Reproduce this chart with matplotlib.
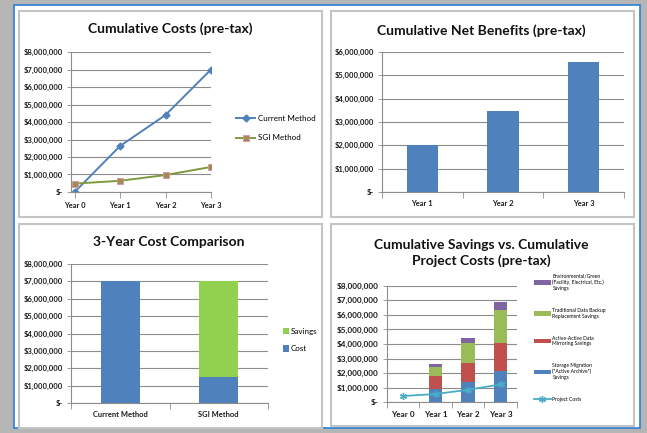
import matplotlib
matplotlib.use('Agg')
import matplotlib.pyplot as plt
from matplotlib.patches import Rectangle
from matplotlib.ticker import FuncFormatter, FixedLocator

# data
years = ['Year 0', 'Year 1', 'Year 2', 'Year 3']
current_cost = [0, 2.63e6, 4.40e6, 7.00e6]
sgi_cost = [0.48e6, 0.64e6, 0.97e6, 1.43e6]

benefit_years = ['Year 1', 'Year 2', 'Year 3']
net_benefit = [2.0e6, 3.47e6, 5.58e6]

methods = ['Current Method', 'SGI Method']
cost_3yr = [7.0e6, 1.5e6]
savings_3yr = [0, 5.5e6]

storage_migration = [0, 0.91e6, 1.41e6, 2.14e6]
mirroring = [0, 0.89e6, 1.30e6, 1.94e6]
backup = [0, 0.64e6, 1.37e6, 2.24e6]
green_savings = [0, 0.16e6, 0.30e6, 0.53e6]
project_costs = [0.43e6, 0.57e6, 0.86e6, 1.23e6]

W, H = 647, 433
BLUE = '#4F81BD'
RED = '#C0504D'
GREEN = '#9BBB59'
PURPLE = '#8064A2'
CYAN = '#4BACC6'
GRID = '#8C8C8C'

plt.rcParams['font.family'] = ['Lato', 'DejaVu Sans']
plt.rcParams['font.weight'] = 'bold'

fig = plt.figure(figsize=(W / 100, H / 100), dpi=100)
fig.patch.set_facecolor('white')


def box(l, t, r, b, **kw):
    fig.patches.append(Rectangle((l / W, 1 - b / H), (r - l) / W, (b - t) / H,
                                 transform=fig.transFigure, **kw))


# frame and panels
box(0, 0, W, H, facecolor='#b5b5b5', edgecolor='none', zorder=-5)
box(14, 5, 640, 428, facecolor='white', edgecolor='#2a7fd4', lw=1.2, zorder=-4)
for l, t, r, b in [(19, 11, 322, 217), (331, 11, 634, 217),
                   (19, 224, 322, 428), (331, 224, 634, 426)]:
    box(l, t, r, b, facecolor='white', edgecolor='#c4c4c4', lw=1.5, zorder=-3)


def money(v, pos):
    return '$-' if v == 0 else '${:,.0f}'.format(v)


def make_ax(l, t, r, b, ymax, step, fs=5.5):
    ax = fig.add_axes([l / W, 1 - b / H, (r - l) / W, (b - t) / H])
    ax.set_facecolor('none')
    ax.set_ylim(0, ymax)
    ax.yaxis.set_major_locator(FixedLocator([i * step for i in range(int(ymax / step) + 1)]))
    ax.yaxis.set_major_formatter(FuncFormatter(money))
    ax.grid(axis='y', color=GRID, lw=0.8)
    ax.set_axisbelow(True)
    for s in ['top', 'right']:
        ax.spines[s].set_visible(False)
    for s in ['left', 'bottom']:
        ax.spines[s].set_color(GRID)
        ax.spines[s].set_linewidth(0.8)
    ax.tick_params(axis='y', length=3, width=0.6, color=GRID, pad=3,
                   labelsize=fs, labelcolor='#1a1a1a')
    ax.tick_params(axis='x', which='both', color=GRID, width=0.6,
                   labelsize=5.4, labelcolor='#1a1a1a')
    return ax


def cat_ticks(ax, labels, fs=5.4):
    n = len(labels)
    ax.set_xlim(-0.5, n - 0.5)
    ax.set_xticks(range(n))
    ax.set_xticklabels(labels)
    ax.set_xticks([i - 0.5 for i in range(n + 1)], minor=True)
    ax.tick_params(axis='x', which='major', length=0, pad=6, labelsize=fs)
    ax.tick_params(axis='x', which='minor', length=4)


title_kw = dict(ha='center', va='center', fontsize=10, fontweight='bold', color='#111111')
plain = {'weight': 'normal'}

# panel 1: cumulative costs
ax1 = make_ax(71, 52, 211, 192, 8e6, 1e6)
x = range(len(years))
ax1.plot(x, current_cost, color=BLUE, lw=1.4, marker='D', ms=3.5,
         mfc=BLUE, mec=BLUE, label='Current Method')
ax1.plot(x, sgi_cost, color='#7E9A3E', lw=1.4, marker='s', ms=4.5,
         mfc='#A08A58', mec='#D89C9C', mew=0.7, label='SGI Method')
ax1.set_xlim(-0.08, 3)
ax1.set_xticks(list(x))
ax1.set_xticklabels(years)
ax1.tick_params(axis='x', length=4, pad=3)
ax1.legend(loc='center left', bbox_to_anchor=(232 / W, 1 - 128 / H),
           bbox_transform=fig.transFigure, frameon=False,
           prop=dict(plain, size=5.8),
           handlelength=2.4, handletextpad=0.3, labelspacing=1.6, borderpad=0)
fig.text(170.5 / W, 1 - 29 / H, 'Cumulative Costs (pre-tax)', **title_kw)

# panel 2: net benefits
ax2 = make_ax(382, 52, 624, 192, 6e6, 1e6)
ax2.bar(range(len(benefit_years)), net_benefit, width=0.39, color=BLUE)
cat_ticks(ax2, benefit_years)
fig.text(481 / W, 1 - 31 / H, 'Cumulative Net Benefits (pre-tax)', **title_kw)

# panel 3: 3-year comparison
ax3 = make_ax(71, 264, 268, 403, 8e6, 1e6)
xm = range(len(methods))
ax3.bar(xm, cost_3yr, width=0.4, color=BLUE, label='Cost')
ax3.bar(xm, savings_3yr, width=0.4, bottom=cost_3yr, color='#92D050', label='Savings')
cat_ticks(ax3, methods)
h, lab = ax3.get_legend_handles_labels()
ax3.legend(h[::-1], lab[::-1], loc='center left', bbox_to_anchor=(279 / W, 1 - 340 / H),
           bbox_transform=fig.transFigure, frameon=False,
           prop=dict(plain, size=5.8),
           handlelength=0.8, handleheight=0.8, handletextpad=0.2,
           labelspacing=1.3, borderpad=0)
fig.text(169 / W, 1 - 242 / H, '3-Year Cost Comparison', **title_kw)

# panel 4: savings vs project costs
ax4 = make_ax(386.7, 285.7, 517, 402.3, 8e6, 1e6, fs=5.9)
xy = range(len(years))
b1 = storage_migration
b2 = [a + b for a, b in zip(b1, mirroring)]
b3 = [a + b for a, b in zip(b2, backup)]
ax4.bar(xy, storage_migration, width=0.41, color=BLUE,
        label='Storage Migration\n("Active Archive")\nSavings')
ax4.bar(xy, mirroring, width=0.41, bottom=b1, color=RED,
        label='Active-Active Data\nMirroring Savings')
ax4.bar(xy, backup, width=0.41, bottom=b2, color=GREEN,
        label='Traditional Data Backup\nReplacement Savings')
ax4.bar(xy, green_savings, width=0.41, bottom=b3, color=PURPLE,
        label='Environmental/Green\n(Facility, Electrical, Etc.)\nSavings')
ax4.plot(xy, project_costs, color=CYAN, lw=1.3, marker=(6, 2, 0), ms=5,
         mec=CYAN, label='Project Costs')
cat_ticks(ax4, years, fs=5.9)
h, lab = ax4.get_legend_handles_labels()
order = [4, 3, 2, 1, 0]
ax4.legend([h[i] for i in order], [lab[i] for i in order], loc='upper left',
           bbox_to_anchor=(531 / W, 1 - 271 / H), bbox_transform=fig.transFigure,
           frameon=False, prop=dict(plain, size=3.6), handlelength=3.5,
           handleheight=1.0, handletextpad=0.3, labelspacing=3.4, borderpad=0)
fig.text(481.7 / W, 1 - 253 / H, 'Cumulative Savings vs. Cumulative\nProject Costs (pre-tax)',
         linespacing=1.35, **title_kw)

fig.savefig('out.png', dpi=100)
